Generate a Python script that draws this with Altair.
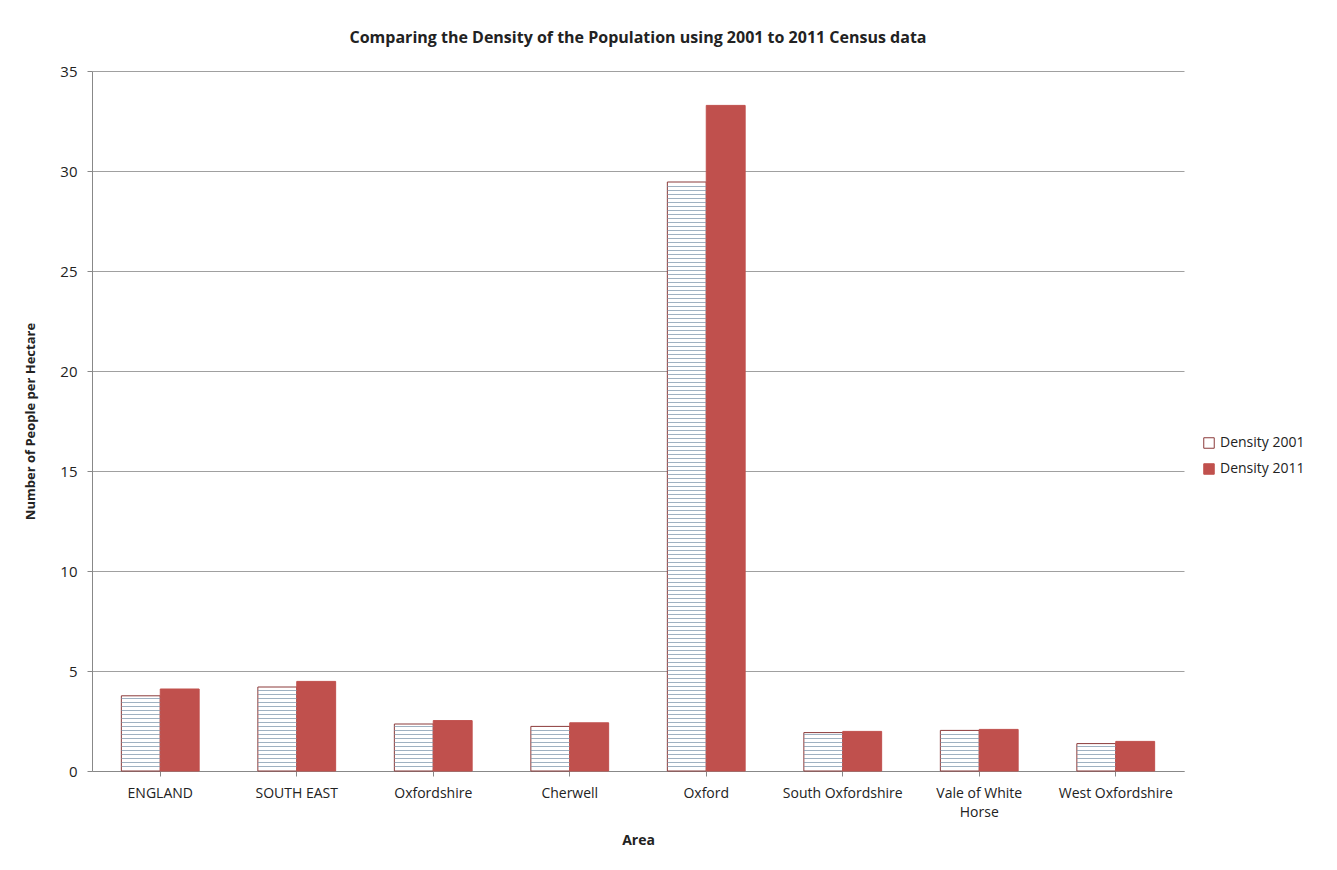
import altair as alt
import numpy as np
import pandas as pd

AREAS = ["ENGLAND", "SOUTH EAST", "Oxfordshire", "Cherwell", "Oxford",
         "South Oxfordshire", "Vale of White Horse", "West Oxfordshire"]
DENSITY_2001 = [3.76, 4.20, 2.35, 2.23, 29.45, 1.92, 2.03, 1.37]
DENSITY_2011 = [4.10, 4.48, 2.52, 2.41, 33.28, 1.98, 2.08, 1.48]
SERIES = ["Density 2001", "Density 2011"]

RED = "#c0504d"
DARK = "#8b3a3a"
STRIPE = "#7f97ad"
FONT = "Open Sans"

bars = pd.DataFrame(
    [{"area": a, "series": SERIES[0], "value": v} for a, v in zip(AREAS, DENSITY_2001)]
    + [{"area": a, "series": SERIES[1], "value": v} for a, v in zip(AREAS, DENSITY_2011)]
)

# horizontal hatch lines inside the 2001 bars
stripes = pd.DataFrame(
    [{"area": a, "series": SERIES[0], "y0": s, "y1": s + 0.04}
     for a, v in zip(AREAS, DENSITY_2001) for s in np.arange(0.2, v - 0.05, 0.2)]
)

x_enc = alt.X(
    "area:N", sort=AREAS, title="Area",
    scale=alt.Scale(paddingInner=0.43, paddingOuter=0.215),
    axis=alt.Axis(
        labelAngle=0, labelFontSize=14, labelColor="#222", labelFont=FONT, labelLineHeight=19,
        labelExpr="datum.value == 'Vale of White Horse' ? ['Vale of White', 'Horse'] : datum.value",
        titleFontSize=14, titleFont=FONT, titleFontWeight="bold", titleColor="#222",
        titlePadding=14, domainColor="#888", tickColor="#888", tickSize=5, labelPadding=10,
    ),
)
xoff = alt.XOffset("series:N", sort=SERIES, scale=alt.Scale(paddingInner=0, paddingOuter=0))
y_scale = alt.Scale(domain=[0, 35])

base_bars = alt.Chart(bars).mark_bar(strokeWidth=1).encode(
    x=x_enc,
    xOffset=xoff,
    y=alt.Y(
        "value:Q", scale=y_scale, title="Number of People per Hectare",
        axis=alt.Axis(
            values=list(range(0, 36, 5)), labelFontSize=15, labelColor="#222", labelFont=FONT,
            titleFontSize=13, titleFont=FONT, titleFontWeight="bold", titleColor="#222",
            titlePadding=22, gridColor="#a0a0a0", domainColor="#888", tickColor="#888",
            tickSize=5, labelPadding=10,
        ),
    ),
    fill=alt.Color(
        "series:N", sort=SERIES,
        scale=alt.Scale(domain=SERIES, range=["#ffffff", RED]),
        legend=alt.Legend(
            title=None, symbolType="square", symbolSize=110, labelFontSize=14,
            labelFont=FONT, labelColor="#222", symbolStrokeWidth=1, rowPadding=10,
            orient="none", legendX=1110, legendY=365,
        ),
    ),
    stroke=alt.Stroke("series:N", sort=SERIES, scale=alt.Scale(domain=SERIES, range=[DARK, RED]), legend=None),
)

hatch = alt.Chart(stripes).mark_bar(color=STRIPE).encode(
    x=alt.X("area:N", sort=AREAS),
    xOffset=xoff,
    y=alt.Y("y0:Q", scale=y_scale),
    y2="y1:Q",
)

chart = (
    alt.layer(base_bars, hatch)
    .properties(
        width=1092, height=700,
        title=alt.TitleParams(
            "Comparing the Density of the Population using 2001 to 2011 Census data",
            fontSize=16, font=FONT, fontWeight="bold", color="#222", offset=18,
        ),
        padding={"left": 16, "top": 22, "right": 10, "bottom": 10},
    )
    .configure_view(strokeWidth=0)
    .configure_axisX(grid=False)
)

chart.save("out.html", embed_options={"renderer": "svg", "actions": False})
